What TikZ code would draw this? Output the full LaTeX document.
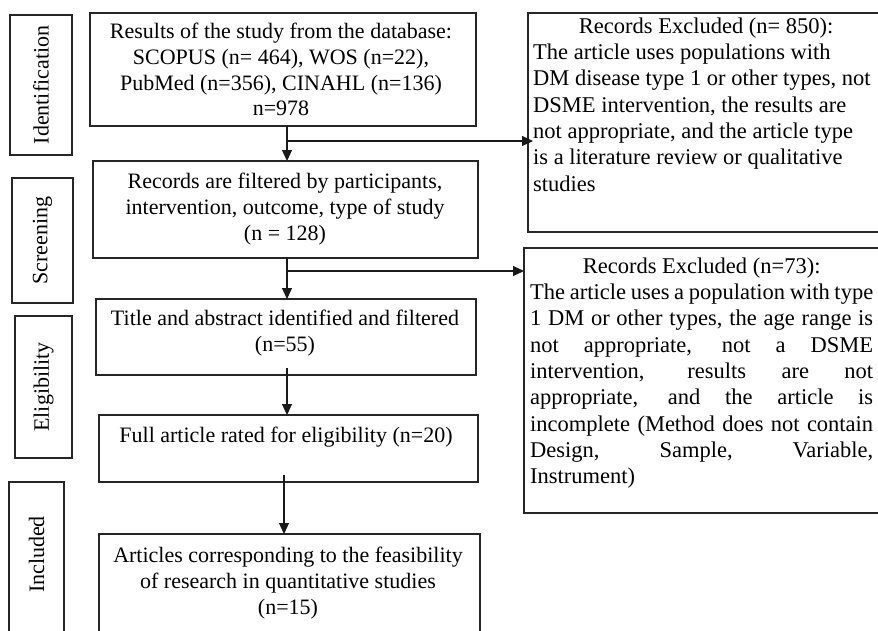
\documentclass[tikz,border=0pt]{standalone}
\usepackage{fontspec}
\setmainfont{Liberation Serif}
\usetikzlibrary{arrows.meta}
\tikzset{
 box/.style={draw=black!85, line width=1.2pt, inner sep=0pt, outer sep=0pt},
 mtext/.style={font=\fontsize{22}{25.7}\selectfont, align=center, inner sep=0pt, anchor=north},
 etext/.style={font=\fontsize{22.5}{26.3}\selectfont, align=left, inner sep=0pt, anchor=north west},
 side/.style={font=\fontsize{22}{26}\selectfont, rotate=90, inner sep=0pt},
 arr/.style={draw=black!90, line width=1.1pt, -{Triangle[length=11pt,width=10pt]}},
}
\begin{document}
\begin{tikzpicture}[x=1pt,y=-1pt]
\useasboundingbox (0,0) rectangle (878,630);
\clip (0,0) rectangle (878,630);
% side labels
\node[box, minimum width=62pt, minimum height=140pt] (s1) at (41,85) {};
\node[side] (l1) at (s1.center) {Identification};
\node[box, minimum width=61pt, minimum height=125pt] (s2) at (42.5,240.5) {};
\node[side] (l2) at (s2.center) {Screening};
\node[box, minimum width=57pt, minimum height=142pt] (s3) at (43.5,387) {};
\node[side] (l3) at (s3.center) {Eligibility};
\node[box, minimum width=55pt, minimum height=168pt] (s4) at (36.5,566) {};
\node[side] (l4) at (36.5,554.5) {Included};
% main boxes
\node[box, minimum width=386pt, minimum height=113pt] (b1) at (283,69.5) {};
\node[mtext] (t1) at (281,23) {Results of the study from the database:\\ SCOPUS (n= 464), WOS (n=22),\\ PubMed (n=356), CINAHL (n=136)\\ n=978};
\node[box, minimum width=385pt, minimum height=97pt] (b2) at (285.5,209.5) {};
\node[mtext] (t2) at (285,173) {Records are filtered by participants,\\ intervention, outcome, type of study\\ (n = 128)};
\node[box, minimum width=380pt, minimum height=76pt] (b3) at (286,337) {};
\node[mtext] (t3) at (285,310) {Title and abstract identified and filtered\\ (n=55)};
\node[box, minimum width=379pt, minimum height=67pt] (b4) at (288.5,448.5) {};
\node[mtext] (t4) at (286,427) {Full article rated for eligibility (n=20)};
\node[box, minimum width=381pt, minimum height=116pt] (b5) at (289.5,592) {};
\node[mtext] (t5) at (288,547) {Articles corresponding to the feasibility\\ of research in quantitative studies\\ (n=15)};
% exclusion boxes
\node[box, minimum width=372pt, minimum height=219pt] (e1) at (714,122.5) {};
\node[etext] (te1) at (533,17.5) {\makebox[346pt][c]{Records Excluded (n= 850):}\\ The article uses populations with\\ DM disease type 1 or other types, not\\ DSME intervention, the results are\\ not appropriate, and the article type\\ is a literature review or qualitative\\ studies};
\node[box, minimum width=376pt, minimum height=265pt] (e2) at (712,380.5) {};
\node[etext] (te2) at (530,257.5) {\makebox[343pt][c]{Records Excluded (n=73):}\\
\makebox[343pt][s]{The article uses a population with type}\\
\makebox[343pt][s]{1 DM or other types, the age range is}\\
\makebox[343pt][s]{not appropriate, not a DSME}\\
\makebox[343pt][s]{intervention, results are not}\\
\makebox[343pt][s]{appropriate, and the article is}\\
\makebox[343pt][s]{incomplete (Method does not contain}\\
\makebox[343pt][s]{Design, Sample, Variable,}\\
Instrument)};
% connectors
\coordinate (ax) at (287,0);
\coordinate (ax4) at (284,0);
\coordinate (j1) at (287,141);
\coordinate (j2) at (287,271);
\coordinate (a3s) at ([yshift=7pt]b3.south);
\coordinate (a4s) at ([yshift=7pt]b4.south);
\draw[arr] (b1.south -| ax) -- (b2.north -| ax);
\draw[arr, shorten >=-5pt] (j1) -- (j1 -| e1.west);
\draw[arr] (b2.south -| ax) -- (b3.north -| ax);
\draw[arr] (j2) -- (j2 -| e2.west);
\draw[arr] (a3s -| ax) -- (b4.north -| ax);
\draw[arr] (a4s -| ax4) -- (b5.north -| ax4);
\end{tikzpicture}
\end{document}
